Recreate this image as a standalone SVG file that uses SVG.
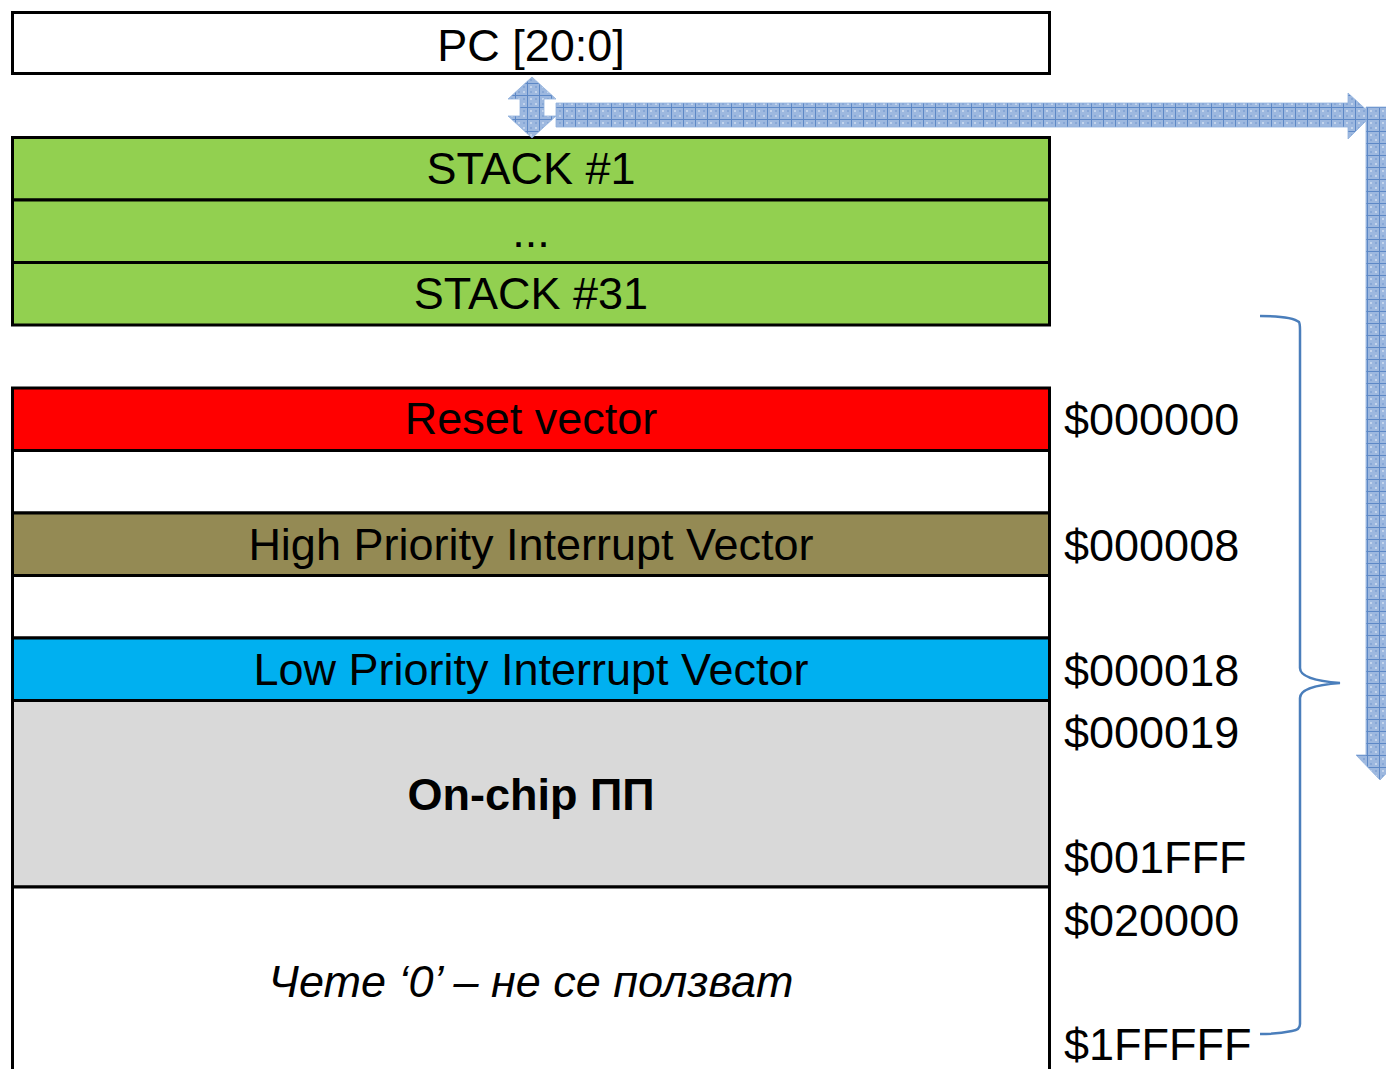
<svg xmlns="http://www.w3.org/2000/svg" width="1386" height="1069" viewBox="0 0 1386 1069">
<style>
.box{stroke:#000;stroke-width:3}
.t{font-family:"Liberation Sans",Arial,sans-serif;font-size:45px;fill:#000;text-anchor:middle}
.a{font-family:"Liberation Sans",Arial,sans-serif;font-size:45px;fill:#000}
.brace{fill:none;stroke:#4a7ebb;stroke-width:2.5}
.arr{fill:url(#hatch);stroke:#8fb0dc;stroke-width:0.8}
</style>
<defs>
<pattern id="hatch" width="12" height="12" patternUnits="userSpaceOnUse">
<rect width="12" height="12" fill="#9db8df"/>
<rect x="2" y="2" width="2" height="2" fill="#c3d4ec"/>
<rect x="7" y="7" width="2" height="2" fill="#c3d4ec"/>
<rect x="7" y="2" width="2" height="2" fill="#87a7d6"/>
<rect x="2" y="7" width="2" height="2" fill="#87a7d6"/>
<path d="M0 11.5H12M11.5 0V12" stroke="#5d88c6" stroke-width="1"/>
</pattern>
</defs>
<rect width="1386" height="1069" fill="#fff"/>
<g id="pc"><rect class="box" x="12.5" y="12.5" width="1037" height="61" fill="#fff"/><text class="t" x="531" y="61">PC [20:0]</text></g>
<g id="stack1"><rect class="box" x="12.5" y="137.5" width="1037" height="62.5" fill="#92d050"/><text class="t" x="531" y="184">STACK #1</text></g>
<g id="stackdots"><rect class="box" x="12.5" y="200" width="1037" height="62.5" fill="#92d050"/><text class="t" x="531" y="247">...</text></g>
<g id="stack31"><rect class="box" x="12.5" y="262.5" width="1037" height="62.5" fill="#92d050"/><text class="t" x="531" y="309">STACK #31</text></g>
<g id="reset"><rect class="box" x="12.5" y="388" width="1037" height="62.5" fill="#ff0000"/><text class="t" x="531" y="434">Reset vector</text></g>
<g id="gap1"><rect class="box" x="12.5" y="450.5" width="1037" height="62.5" fill="#fff"/></g>
<g id="high"><rect class="box" x="12.5" y="513" width="1037" height="62.5" fill="#948a54"/><text class="t" x="531" y="560">High Priority Interrupt Vector</text></g>
<g id="gap2"><rect class="box" x="12.5" y="575.5" width="1037" height="62.5" fill="#fff"/></g>
<g id="low"><rect class="box" x="12.5" y="638" width="1037" height="62.5" fill="#00b0f0"/><text class="t" x="531" y="685">Low Priority Interrupt Vector</text></g>
<g id="onchip"><rect class="box" x="12.5" y="700.5" width="1037" height="186.5" fill="#d9d9d9"/><text class="t" x="531" y="810" font-weight="bold">On-chip ПП</text></g>
<g id="unused"><rect class="box" x="12.5" y="887" width="1037" height="200" fill="#fff"/><text class="t" x="531" y="997" font-style="italic">Чете ‘0’ – не се ползват</text></g>
<g id="addresses">
<text class="a" x="1064" y="435">$000000</text>
<text class="a" x="1064" y="561">$000008</text>
<text class="a" x="1064" y="686">$000018</text>
<text class="a" x="1064" y="748">$000019</text>
<text class="a" x="1064" y="873">$001FFF</text>
<text class="a" x="1064" y="936">$020000</text>
<text class="a" x="1064" y="1060">$1FFFFF</text>
</g>
<g id="connectors">
<path class="arr" d="M532 77L556 99H544V116H556L532 138L508 116H520V99H508Z"/>
<path class="arr" d="M556 103H1348V93L1372 115L1348 139V127H556Z"/>
<path class="arr" d="M1366 107H1392V755H1404L1380 780L1356 755H1366Z"/>
<path class="brace" d="M1260 316Q1292 316 1299 322Q1300 324 1300 330V668Q1300 680 1340 683Q1300 686 1300 698V1024Q1300 1030 1292 1031Q1278 1034 1260 1034"/>
</g>
</svg>
